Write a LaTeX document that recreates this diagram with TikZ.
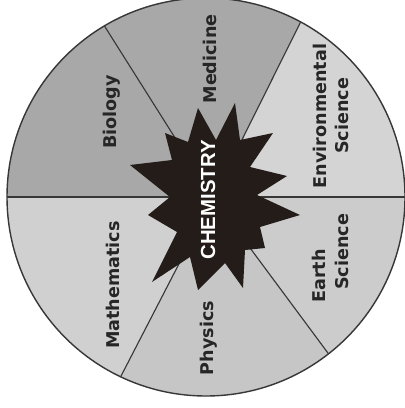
\documentclass[tikz,border=0pt]{standalone}
\usepackage{fontspec}
\newfontfamily\labfont{DejaVu Sans}
\newfontfamily\chemfont{Liberation Sans}
\definecolor{darkc}{RGB}{168,168,168}
\definecolor{envc}{RGB}{212,212,212}
\definecolor{earthc}{RGB}{204,204,204}
\definecolor{physc}{RGB}{198,198,198}
\definecolor{mathc}{RGB}{208,208,208}
\definecolor{linec}{RGB}{55,55,55}
\definecolor{starc}{RGB}{35,28,25}
\definecolor{labtext}{RGB}{38,38,38}
\begin{document}
\begin{tikzpicture}[x=0.025cm,y=-0.025cm,
  lab/.style={rotate=90,font=\labfont\bfseries\fontsize{12.5}{14}\selectfont,text=labtext,inner sep=0pt},
  chem/.style={rotate=90,font=\chemfont\bfseries\fontsize{14.5}{16}\selectfont,text=white,inner sep=0pt},
  divider/.style={draw=linec,line width=0.8pt},
  rim/.style={draw=linec,line width=1pt}]
\useasboundingbox (0,0) rectangle (405,408);
\fill[white] (0,0) rectangle (405,408);
\begin{scope}[shift={(206,197)},yscale=-1]
  \coordinate (C) at (0,0);
  \coordinate (H) at (7,-1);
  \foreach \n/\a in {0/0,1/61.6,2/120.7,3/180,4/244.6,5/308}
    \coordinate (b\n) at (\a:199);
  \fill[envc]   (H) -- (b0) arc[start angle=0,end angle=61.6,radius=199] -- cycle;
  \fill[darkc]  (H) -- (b1) arc[start angle=61.6,end angle=120.7,radius=199] -- cycle;
  \fill[darkc]  (H) -- (b2) arc[start angle=120.7,end angle=180,radius=199] -- cycle;
  \fill[mathc]  (H) -- (b3) arc[start angle=180,end angle=244.6,radius=199] -- cycle;
  \fill[physc]  (H) -- (b4) arc[start angle=244.6,end angle=308,radius=199] -- cycle;
  \fill[earthc] (H) -- (b5) arc[start angle=308,end angle=360,radius=199] -- cycle;
  \draw[divider] (H) -- (b1);
  \draw[divider] (H) -- (b2);
  \draw[divider] (H) -- (b4);
  \draw[divider] (H) -- (b5);
  \draw[divider,line width=1.2pt] (b3) -- (b0);
  \draw[rim] (C) circle[radius=199];
\end{scope}
% star
\fill[starc] (198,108) -- (216,140) -- (235,103) -- (240,140) -- (273,133) -- (250,167)
  -- (287,176) -- (257,195) -- (300,215) -- (260,227) -- (265,248) -- (245,250)
  -- (243,288) -- (225,263) -- (198,290) -- (190,257) -- (152,282) -- (177,232)
  -- (148,215) -- (170,197) -- (130,165) -- (172,160) -- (165,133) -- (188,142) -- cycle;
\node[chem] (chem) at (208,200) {CHEMISTRY};
\node[lab] (bio) at (112,112) {Biology};
\node[lab] (med) at (210,59) {Medicine};
\node[lab] (env1) at (320,116) {Environmental};
\node[lab] (env2) at (342,116) {Science};
\node[lab] (earth1) at (319,276) {Earth};
\node[lab] (earth2) at (342,252) {Science};
\node[lab] (math) at (113,285) {Mathematics};
\node[lab] (phys) at (209,338) {Physics};
\end{tikzpicture}
\end{document}
